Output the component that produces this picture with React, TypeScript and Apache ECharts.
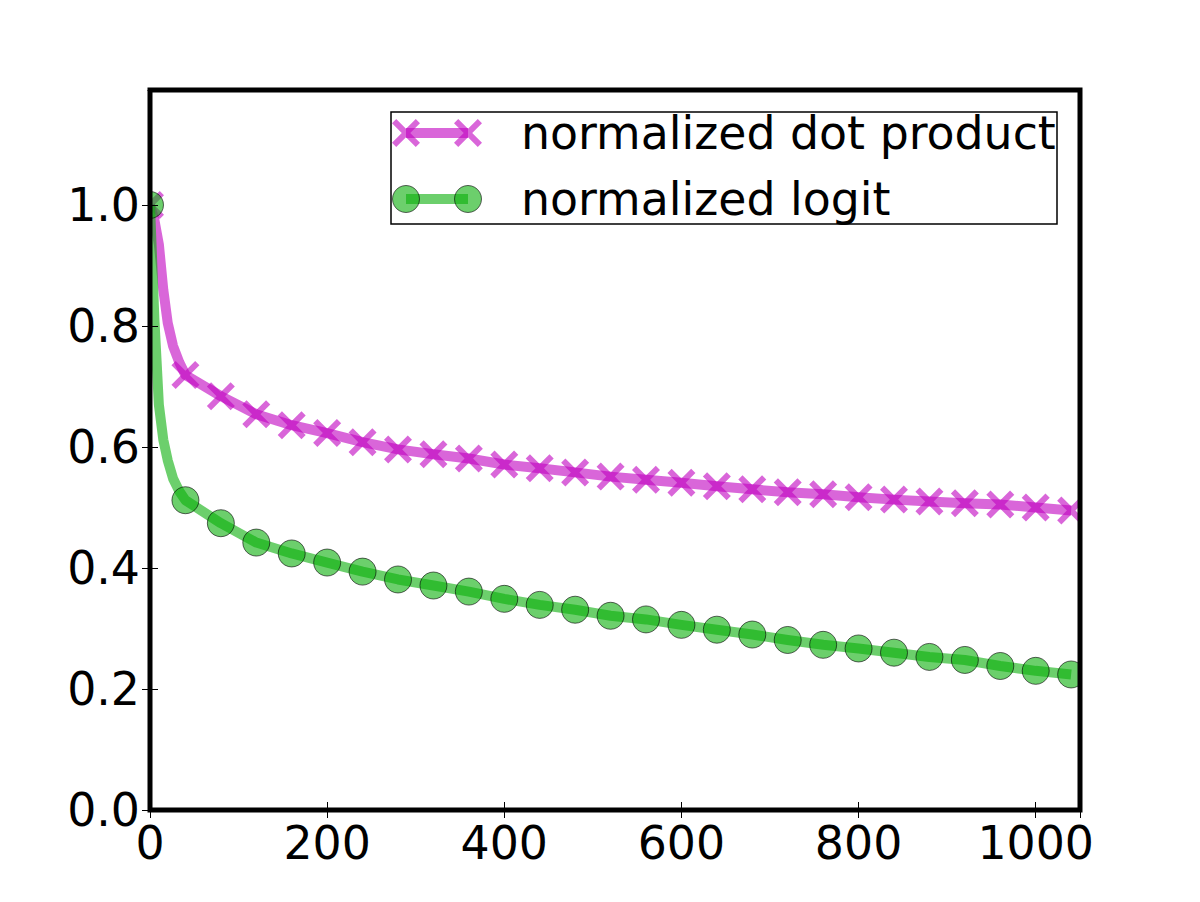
import React, { useEffect, useRef } from "react";
import * as echarts from "echarts";

// Training steps (dense at the start, then every 40 steps)
const steps = [
  0, 5, 10, 15, 20, 26, 33, 40, 80, 120, 160, 200, 240, 280, 320, 360, 400, 440,
  480, 520, 560, 600, 640, 680, 720, 760, 800, 840, 880, 920, 960, 1000, 1040,
];

const dotProduct = [
  1.0, 0.975, 0.935, 0.86, 0.805, 0.767, 0.74, 0.719, 0.684, 0.654, 0.636, 0.623,
  0.608, 0.596, 0.588, 0.581, 0.571, 0.565, 0.558, 0.551, 0.546, 0.541, 0.535,
  0.53, 0.525, 0.522, 0.517, 0.513, 0.51, 0.507, 0.505, 0.5, 0.495,
];

const logit = [
  1.0, 0.81, 0.67, 0.612, 0.578, 0.548, 0.527, 0.512, 0.474, 0.442, 0.424, 0.409,
  0.394, 0.381, 0.371, 0.361, 0.349, 0.339, 0.331, 0.321, 0.315, 0.306, 0.298,
  0.29, 0.281, 0.273, 0.267, 0.26, 0.253, 0.248, 0.238, 0.23, 0.224,
];

const xTicks = [0, 200, 400, 600, 800, 1000];
const yTicks = [0, 0.2, 0.4, 0.6, 0.8, 1.0];
const seriesNames = ["normalized dot product", "normalized logit"];

const MARK_EVERY = 40;
const X_MIN = 0;
const X_MAX = 1050;
const Y_MIN = 0;
const Y_MAX = 1.19;

// plot rectangle
const G_LEFT = 150;
const G_TOP = 90;
const G_W = 930;
const G_H = 720;

const FONT = '"DejaVu Sans", sans-serif';
const FONT_SIZE = 45.8;
const PURPLE = "rgb(191,0,191)";
const GREEN = "rgb(10,175,10)";
const ALPHA = 0.6;

// "x" marker outline (28 x 28 box, arms 6 px thick)
const X_PATH =
  "M0,4.24L4.24,0L14,9.76L23.76,0L28,4.24L18.24,14L28,23.76L23.76,28L14,18.24L4.24,28L0,23.76L9.76,14Z";

echarts.graphic.registerShape("xmark", echarts.graphic.extendPath(X_PATH, {}));

function buildData(values: number[]) {
  return steps.map((s, i) => {
    const item: any = { value: [s, values[i]] };
    if (s % MARK_EVERY !== 0) item.symbol = "none";
    return item;
  });
}

export default function App() {
  const ref = useRef<HTMLDivElement>(null);

  useEffect(() => {
    if (!ref.current) return;
    const chart = echarts.init(ref.current, null, { renderer: "svg" });

    const tickCommon = {
      show: true,
      inside: true,
      length: 8,
      lineStyle: { color: "#000", width: 1 },
    };

    const legendX0 = 406;
    const legendX1 = 468;
    const legendY = [133, 199];

    const option: any = {
      animation: false,
      backgroundColor: "#fff",
      grid: { left: G_LEFT, top: G_TOP, width: G_W, height: G_H, containLabel: false },
      xAxis: [
        {
          type: "value",
          min: X_MIN,
          max: X_MAX,
          interval: 200,
          position: "bottom",
          z: 10,
          axisLine: { show: false },
          splitLine: { show: false },
          axisTick: tickCommon,
          axisLabel: {
            margin: 10,
            color: "#000",
            fontFamily: FONT,
            fontSize: FONT_SIZE,
            showMaxLabel: false,
            formatter: (v: number) => (xTicks.includes(v) ? String(v) : ""),
          },
        },
        {
          type: "value",
          min: X_MIN,
          max: X_MAX,
          interval: 200,
          position: "top",
          z: 10,
          axisLine: { show: false },
          splitLine: { show: false },
          axisTick: tickCommon,
          axisLabel: { show: false },
        },
      ],
      yAxis: [
        {
          type: "value",
          min: Y_MIN,
          max: Y_MAX,
          interval: 0.2,
          position: "left",
          z: 10,
          axisLine: { show: false },
          splitLine: { show: false },
          axisTick: tickCommon,
          axisLabel: {
            margin: 10,
            color: "#000",
            fontFamily: FONT,
            fontSize: FONT_SIZE,
            showMaxLabel: false,
            formatter: (v: number) =>
              yTicks.some((t) => Math.abs(t - v) < 1e-9) ? v.toFixed(1) : "",
          },
        },
        {
          type: "value",
          min: Y_MIN,
          max: Y_MAX,
          interval: 0.2,
          position: "right",
          z: 10,
          axisLine: { show: false },
          splitLine: { show: false },
          axisTick: tickCommon,
          axisLabel: { show: false },
        },
      ],
      series: [
        {
          name: seriesNames[0],
          type: "line",
          data: buildData(dotProduct),
          symbol: "path://" + X_PATH,
          symbolSize: 28,
          showAllSymbol: true,
          clip: true,
          z: 2,
          lineStyle: { color: PURPLE, width: 10, opacity: ALPHA, join: "round" },
          itemStyle: { color: PURPLE, opacity: ALPHA, borderWidth: 0 },
          emphasis: { disabled: true },
        },
        {
          name: seriesNames[1],
          type: "line",
          data: buildData(logit),
          symbol: "circle",
          symbolSize: 27,
          showAllSymbol: true,
          clip: true,
          z: 3,
          lineStyle: { color: GREEN, width: 10, opacity: ALPHA, join: "round" },
          itemStyle: {
            color: GREEN,
            opacity: ALPHA,
            borderColor: "#000",
            borderWidth: 1,
          },
          emphasis: { disabled: true },
        },
      ],
      graphic: [
        // hide marker parts that fall outside the plot rectangle
        {
          type: "rect",
          z: 5,
          silent: true,
          shape: { x: 0, y: G_TOP, width: G_LEFT, height: G_H },
          style: { fill: "#fff" },
        },
        {
          type: "rect",
          z: 5,
          silent: true,
          shape: { x: G_LEFT + G_W, y: G_TOP, width: 1200 - G_LEFT - G_W, height: G_H },
          style: { fill: "#fff" },
        },
        // keep the frame corners clean of boundary ticks
        {
          type: "rect",
          z: 11,
          silent: true,
          shape: { x: G_LEFT - 14, y: G_TOP - 8, width: 11.5, height: 16 },
          style: { fill: "#fff" },
        },
        {
          type: "rect",
          z: 11,
          silent: true,
          shape: { x: G_LEFT + G_W - 8, y: G_TOP - 14, width: 16, height: 11.5 },
          style: { fill: "#fff" },
        },
        // axes frame
        {
          type: "rect",
          z: 100,
          silent: true,
          shape: { x: G_LEFT, y: G_TOP, width: G_W, height: G_H },
          style: { fill: "none", stroke: "#000", lineWidth: 5 },
        },
        // legend box
        {
          type: "rect",
          z: 50,
          silent: true,
          shape: { x: 391, y: 112, width: 666, height: 112 },
          style: { fill: "#fff", stroke: "#000", lineWidth: 1.5 },
        },
        {
          type: "line",
          z: 51,
          silent: true,
          shape: { x1: legendX0, y1: legendY[0], x2: legendX1, y2: legendY[0] },
          style: { stroke: PURPLE, lineWidth: 10, opacity: ALPHA },
        },
        ...[legendX0, legendX1].map((cx) => ({
          type: "xmark",
          z: 52,
          silent: true,
          x: cx - 14,
          y: legendY[0] - 14,
          style: { fill: PURPLE, opacity: ALPHA },
        })),
        {
          type: "line",
          z: 51,
          silent: true,
          shape: { x1: legendX0, y1: legendY[1], x2: legendX1, y2: legendY[1] },
          style: { stroke: GREEN, lineWidth: 10, opacity: ALPHA },
        },
        ...[legendX0, legendX1].map((cx) => ({
          type: "circle",
          z: 52,
          silent: true,
          shape: { cx, cy: legendY[1], r: 13.5 },
          style: { fill: GREEN, stroke: "#000", lineWidth: 1, opacity: ALPHA },
        })),
        ...seriesNames.map((name, i) => ({
          type: "text",
          z: 53,
          silent: true,
          x: 521,
          y: legendY[i],
          style: {
            text: name,
            font: `${FONT_SIZE}px ${FONT}`,
            fill: "#000",
            verticalAlign: "middle",
            align: "left",
          },
        })),
      ],
    };

    chart.setOption(option);
    return () => chart.dispose();
  }, []);

  return (
    <div
      ref={ref}
      style={{ position: "absolute", left: 0, top: 0, width: 1200, height: 902, background: "#fff" }}
    />
  );
}
